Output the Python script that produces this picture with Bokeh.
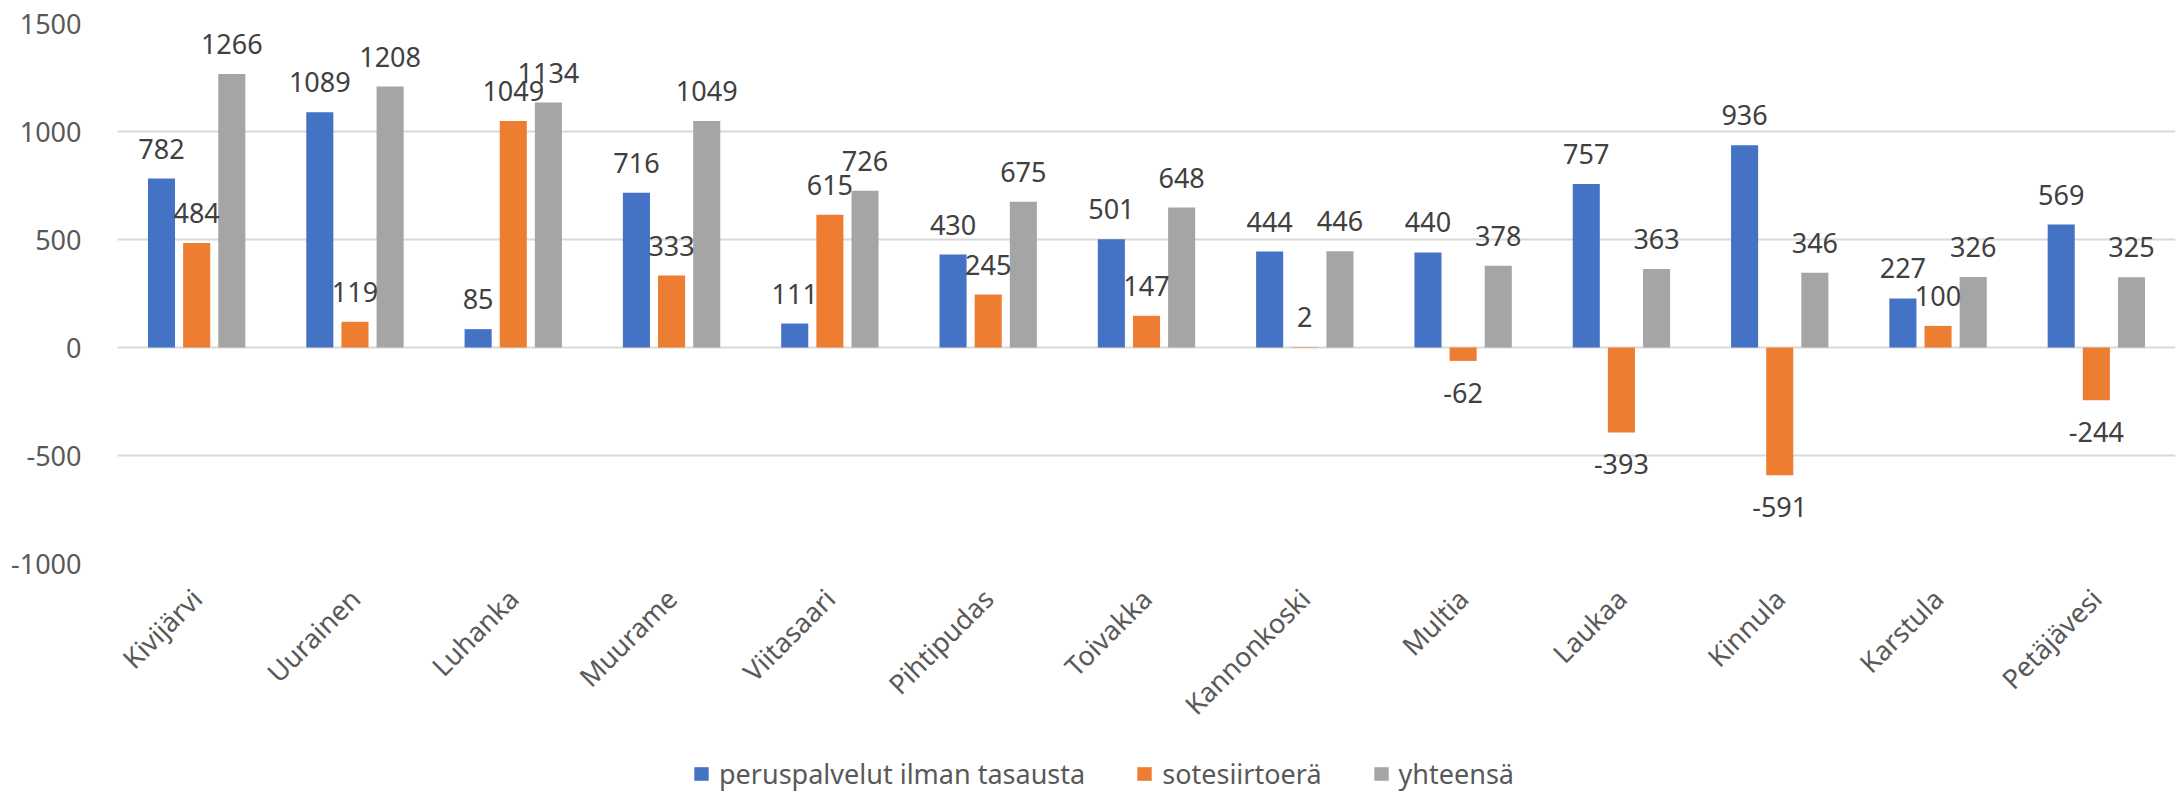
import math
from bokeh.plotting import figure
from bokeh.layouts import column
from bokeh.models import (ColumnDataSource, FactorRange, Range1d, LabelSet, Legend,
                          LegendItem, FixedTicker)
from bokeh.core.properties import value
from bokeh.transform import dodge
from bokeh.embed import file_html
from bokeh.resources import INLINE

categories = ["Kivijärvi", "Uurainen", "Luhanka", "Muurame", "Viitasaari", "Pihtipudas",
              "Toivakka", "Kannonkoski", "Multia", "Laukaa", "Kinnula", "Karstula", "Petäjävesi"]
peruspalvelut = [782, 1089, 85, 716, 111, 430, 501, 444, 440, 757, 936, 227, 569]
sotesiirtoera = [484, 119, 1049, 333, 615, 245, 147, 2, -62, -393, -591, 100, -244]
yhteensa = [1266, 1208, 1134, 1049, 726, 675, 648, 446, 378, 363, 346, 326, 325]
series_names = ["peruspalvelut ilman tasausta", "sotesiirtoerä", "yhteensä"]
series_colors = ["#4472C4", "#ED7D31", "#A5A5A5"]
y_ticks = [-1000, -500, 0, 500, 1000, 1500]

FONT = "Noto Sans"

p = figure(x_range=FactorRange(factors=categories), y_range=Range1d(-1000, 1500),
           width=2176, height=738, output_backend="svg", toolbar_location=None,
           min_border_left=117, min_border_right=1, min_border_top=23, min_border_bottom=171)
p.outline_line_color = None
p.background_fill_color = "white"

p.xgrid.grid_line_color = None
p.ygrid.grid_line_color = "#D9D9D9"
p.ygrid.grid_line_width = 2

p.yaxis.ticker = FixedTicker(ticks=y_ticks)
p.yaxis.major_label_overrides = {t: str(t) for t in y_ticks}
p.yaxis.axis_line_color = None
p.yaxis.major_tick_line_color = None
p.yaxis.minor_tick_line_color = None
p.yaxis.major_label_standoff = 30
p.yaxis.major_label_text_font = FONT
p.yaxis.major_label_text_font_size = "27px"
p.yaxis.major_label_text_color = "#595959"

p.xaxis.axis_line_color = None
p.xaxis.major_tick_line_color = None
p.xaxis.minor_tick_line_color = None
p.xaxis.major_label_orientation = math.pi / 4
p.xaxis.major_label_standoff = 24
p.xaxis.major_label_text_font = FONT
p.xaxis.major_label_text_font_size = "27px"
p.xaxis.major_label_text_color = "#595959"

offsets = [-0.222, 0.0, 0.222]
bar_w = 0.171
for vals, name, color, off in zip([peruspalvelut, sotesiirtoera, yhteensa], series_names,
                                  series_colors, offsets):
    src = ColumnDataSource(dict(cat=categories, val=vals))
    p.vbar(x=dodge("cat", off, range=p.x_range), top="val", bottom=0, width=bar_w,
           source=src, fill_color=color, line_color=None)
    pos = [i for i, v in enumerate(vals) if v >= 0]
    neg = [i for i, v in enumerate(vals) if v < 0]
    for idx, yoff in ((pos, 20), (neg, -42)):
        if not idx:
            continue
        s2 = ColumnDataSource(dict(cat=[categories[i] for i in idx],
                                   val=[vals[i] for i in idx],
                                   lab=[str(vals[i]) for i in idx]))
        ls = LabelSet(x=dodge("cat", off, range=p.x_range), y="val", text="lab", source=s2,
                      y_offset=yoff, text_align="center", text_baseline="alphabetic",
                      text_font=value(FONT), text_font_size="27px", text_color="#404040")
        p.add_layout(ls)

# legend strip below the chart (proxy renderers of zero height carry the legend swatches)
lf = figure(width=2176, height=54, output_backend="svg", toolbar_location=None,
            x_range=Range1d(0, 1), y_range=Range1d(0, 1),
            x_axis_location=None, y_axis_location=None,
            min_border_left=0, min_border_right=0, min_border_top=0, min_border_bottom=0)
lf.outline_line_color = None
lf.grid.grid_line_color = None
items = []
for name, color in zip(series_names, series_colors):
    proxy = ColumnDataSource(dict(x=[0.5], top=[0.0]))
    r = lf.vbar(x="x", top="top", bottom=0, width=0.01, source=proxy,
                fill_color=color, line_color=None)
    items.append(LegendItem(label=name, renderers=[r]))

legend = Legend(items=items, orientation="horizontal", location=(575, 0),
                padding=0, margin=0, spacing=50, label_standoff=9,
                glyph_width=18, glyph_height=17,
                label_text_font=FONT, label_text_font_size="27px",
                label_text_color="#595959", border_line_color=None,
                background_fill_alpha=0)
lf.add_layout(legend, "center")

layout = column(p, lf, spacing=0)
open("out.html", "w").write(file_html(layout, INLINE))
